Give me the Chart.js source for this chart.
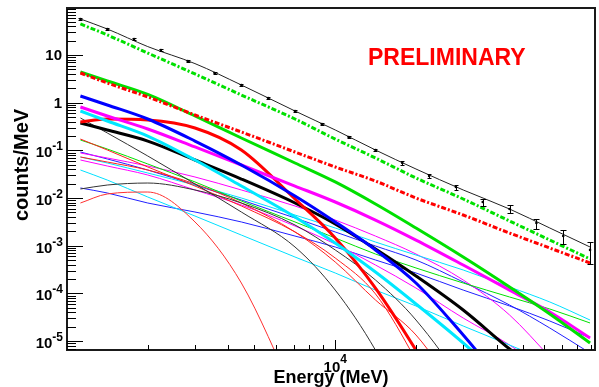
<!DOCTYPE html>
<html>
<head>
<meta charset="utf-8">
<script src="https://cdn.jsdelivr.net/npm/chart.js@4.4.1/dist/chart.umd.min.js"></script>
<style>
  html, body { margin: 0; padding: 0; background: #fff; }
  canvas { display: block; }
</style>
</head>
<body>
<canvas id="spectrum" width="599" height="387"></canvas>
<script>
const energy = [1122, 1413, 2000, 3000, 4467, 7079, 10000, 14125, 20000, 30000, 44668, 63096, 89125];

// binned counts with errors
const binEnergy = [1122, 1413, 1778, 2239, 2818, 3548, 4467, 5623, 7079, 8913, 11220, 14125, 17783, 22387, 28184, 35481, 44668, 56234, 70795, 89125];
const counts = [56.9, 35.1, 21.6, 12.7, 7.48, 4.19, 2.35, 1.25, 0.670, 0.357, 0.191, 0.102, 0.0544, 0.0290, 0.0171, 0.00828, 0.0059, 0.0030, 0.0016, 0.00082];
const countsErr = [1.7, 1.1, 0.7, 0.4, 0.25, 0.15, 0.09, 0.05, 0.03, 0.018, 0.011, 0.007, 0.0045, 0.0028, 0.002, 0.0013, 0.0011, 0.0007, 0.0005, 0.0004];

// total model
const totalModel = [56.9, 35.1, 15.0, 6.6, 2.35, 0.670, 0.268, 0.102, 0.0407, 0.0148, 0.0059, 0.00236, 0.000944];

// bright components (thick)
const greenDashDot = [44.7, 26.3, 11.0, 4.00, 1.45, 0.455, 0.173, 0.0693, 0.0264, 0.00957, 0.00331, 0.00132, 0.000529];
const redDashDot = [4.19, 2.59, 1.32, 0.552, 0.243, 0.0925, 0.0449, 0.0228, 0.01005, 0.00442, 0.00185, 0.000899, 0.000436];
const greenThick = [4.40, 2.85, 1.49, 0.526, 0.182, 0.0544, 0.0218, 0.00752, 0.00236, 0.000582, 0.000137, 3.72e-5, 9.17e-6];
const blueThick = [1.38, 0.895, 0.455, 0.157, 0.0494, 0.01107, 0.00316, 0.000817, 0.000166, 1.35e-5, 9.5e-7, 1.4e-7, 2e-8];
const magentaThick = [0.813, 0.526, 0.281, 0.118, 0.0494, 0.0179, 0.00828, 0.00347, 0.00132, 0.000396, 0.000118, 4.09e-5, 1.17e-5];
const cyanThick = [0.670, 0.413, 0.200, 0.0629, 0.0179, 0.00402, 0.001145, 0.000282, 6.03e-5, 9.17e-6, 1.21e-6, 2.2e-7, 4e-8];
const redThick = [0.394, 0.455, 0.434, 0.295, 0.102, 0.00957, 0.00146, 0.000130, 6.5e-6, 1.4e-7, 1.8e-9, null, null];
const blackThick = [0.375, 0.268, 0.157, 0.0629, 0.0251, 0.00789, 0.00286, 0.000857, 0.000233, 4.51e-5, 6.86e-6, 1.54e-6, 2.8e-7];

// faint components (thin)
const blackThinA = [0.478, 0.232, 0.0763, 0.0198, 0.00511, 0.000944, 0.000118, 6.5e-6, 1.4e-7, null, null, null, null];
const blackThinB = [0.0155, 0.0188, 0.0207, 0.0148, 0.00789, 0.00273, 0.000817, 0.000192, 2.78e-5, 1.21e-6, 2e-8, null, null];
const redThinA = [0.173, 0.102, 0.0449, 0.0179, 0.00683, 0.00195, 0.000555, 9.8e-5, 4.0e-6, 5e-8, null, null, null];
const redThinB = [0.0727, 0.0571, 0.0388, 0.0198, 0.00789, 0.00195, 0.000457, 7.31e-5, 1.35e-5, 5.8e-7, null, null, null];
const redThinC = [0.00789, 0.0122, 0.0134, 0.00316, 0.000166, 7.4e-7, null, null, null, null, null, null, null];
const greenThin = [0.165, 0.107, 0.0519, 0.0218, 0.00869, 0.00316, 0.00146, 0.000673, 0.000343, 0.000166, 8.45e-5, 4.73e-5, 2.41e-5];
const cyanThinA = [0.0727, 0.0544, 0.0336, 0.0188, 0.01005, 0.00442, 0.00236, 0.00120, 0.000641, 0.000311, 0.000137, 6.64e-5, 2.78e-5];
const cyanThinB = [0.0388, 0.0239, 0.01055, 0.00421, 0.00168, 0.000582, 0.000269, 0.000118, 5.47e-5, 2.08e-5, 8.32e-6, 3.66e-6, 1.54e-6];
const magentaThinA = [0.0882, 0.0693, 0.0471, 0.0277, 0.0148, 0.00683, 0.00347, 0.00160, 0.000673, 0.000192, 3.54e-5, 4.67e-6, 5.8e-7];
const magentaThinB = [0.0629, 0.0471, 0.0305, 0.0148, 0.00716, 0.00260, 0.00109, 0.000396, 0.000130, 3.06e-5, 8.32e-6, 1.95e-6, 3.6e-7];
const blueThinA = [0.0925, 0.0661, 0.0388, 0.0188, 0.00912, 0.00383, 0.00195, 0.000991, 0.000504, 0.000174, 5.74e-5, 1.89e-5, 5.66e-6];
const blueThinB = [0.0163, 0.0128, 0.00789, 0.00511, 0.00316, 0.00160, 0.000944, 0.000504, 0.000269, 0.000118, 5.47e-5, 2.65e-5, 1.17e-5];

// axis labels
const yTickExp = [1, 0, -1, -2, -3, -4, -5];
const xTickExp = [4];
const xTitle = 'Energy (MeV)';
const yTitle = 'counts/MeV';
const stamp = 'PRELIMINARY';

const FONT = '"Liberation Sans", Arial, sans-serif';
const DASHDOT = [5, 2, 2, 2];

function toPoints(vals) {
  return energy.map((e, i) => ({ x: e, y: vals[i] })).filter(p => p.y != null);
}

function curve(vals, color, width, dash, order) {
  return {
    type: 'line',
    data: toPoints(vals),
    borderColor: color,
    borderWidth: width,
    borderDash: dash || [],
    pointRadius: 0,
    fill: false,
    cubicInterpolationMode: 'monotone',
    clip: 0,
    order: order
  };
}

const datasets = [
  // data points
  {
    type: 'line',
    data: binEnergy.map((e, i) => ({ x: e, y: counts[i] })),
    showLine: false,
    pointRadius: 1.3,
    pointBackgroundColor: '#000',
    pointBorderWidth: 0,
    clip: 0,
    order: 0
  },
  curve(totalModel, '#222', 1, null, 1),
  curve(greenDashDot, '#00e000', 3, DASHDOT, 2),
  curve(redDashDot, '#ff0000', 3, DASHDOT, 2),
  curve(greenThick, '#00e000', 3, null, 3),
  curve(blueThick, '#0000ff', 3, null, 3),
  curve(magentaThick, '#ff00ff', 3, null, 3),
  curve(cyanThick, '#00e8ff', 3, null, 3),
  curve(redThick, '#ff0000', 3, null, 3),
  curve(blackThick, '#000', 3, null, 3),
  curve(blackThinA, '#333', 1, null, 4),
  curve(blackThinB, '#333', 1, null, 4),
  curve(redThinA, '#ff2020', 1, null, 4),
  curve(redThinB, '#ff2020', 1, null, 4),
  curve(redThinC, '#ff3030', 1, null, 4),
  curve(greenThin, '#00e000', 1, null, 4),
  curve(cyanThinA, '#00e0ff', 1, null, 4),
  curve(cyanThinB, '#00e0ff', 1, null, 4),
  curve(magentaThinA, '#ff00ff', 1, null, 4),
  curve(magentaThinB, '#ff00ff', 1, null, 4),
  curve(blueThinA, '#2020ff', 1, null, 4),
  curve(blueThinB, '#2020ff', 1, null, 4)
];

// ROOT-like frame, inward ticks, labels and error bars
const decorations = {
  id: 'decorations',
  afterDatasetsDraw(chart) {
    const { ctx, scales: { x, y } } = chart;
    ctx.save();
    ctx.strokeStyle = '#000';
    ctx.lineWidth = 1;
    ctx.beginPath();
    binEnergy.forEach((e, i) => {
      const px = Math.round(x.getPixelForValue(e)) + 0.5;
      const lo = Math.round(y.getPixelForValue(counts[i] - countsErr[i])) + 0.5;
      const hi = Math.round(y.getPixelForValue(counts[i] + countsErr[i])) + 0.5;
      const cap = lo - hi > 6 ? 3 : 2;
      ctx.moveTo(px, lo); ctx.lineTo(px, hi);
      ctx.moveTo(px - cap, lo); ctx.lineTo(px + cap, lo);
      ctx.moveTo(px - cap, hi); ctx.lineTo(px + cap, hi);
    });
    ctx.stroke();
    ctx.restore();
  },
  afterDraw(chart) {
    const { ctx, chartArea: a, scales: { x, y } } = chart;
    ctx.save();

    ctx.strokeStyle = '#1a1a1a';
    ctx.lineWidth = 2;
    ctx.strokeRect(a.left, a.top, a.right - a.left, a.bottom - a.top);

    ctx.lineWidth = 1;
    ctx.strokeStyle = '#000';
    ctx.beginPath();
    for (let d = -6; d <= 5; d++) {
      for (let m = 1; m <= 9; m++) {
        const v = m * Math.pow(10, d);
        if (v > y.min && v < y.max) {
          const py = Math.round(y.getPixelForValue(v)) + 0.5;
          ctx.moveTo(a.left, py);
          ctx.lineTo(a.left + (m === 1 ? 16 : 9), py);
        }
        if (v > x.min && v < x.max) {
          const px = Math.round(x.getPixelForValue(v)) + 0.5;
          ctx.moveTo(px, a.bottom);
          ctx.lineTo(px, a.bottom - (m === 1 ? 10 : 5));
        }
      }
    }
    ctx.stroke();

    const base = 'bold 15px ' + FONT;
    const sup = 'bold 12px ' + FONT;
    ctx.fillStyle = '#000';
    ctx.textBaseline = 'alphabetic';

    yTickExp.forEach(d => {
      const py = y.getPixelForValue(Math.pow(10, d));
      ctx.textAlign = 'right';
      if (d === 0 || d === 1) {
        ctx.font = base;
        ctx.fillText(d === 0 ? '1' : '10', a.left - 5, py + 5);
      } else {
        ctx.font = sup;
        const ew = ctx.measureText(String(d)).width;
        ctx.fillText(String(d), a.left - 4, py);
        ctx.font = base;
        ctx.fillText('10', a.left - 4 - ew, py + 7);
      }
    });

    xTickExp.forEach(d => {
      const px = x.getPixelForValue(Math.pow(10, d));
      ctx.font = base;
      const bw = ctx.measureText('10').width;
      ctx.font = sup;
      const ew = ctx.measureText(String(d)).width;
      const left = px - (bw + ew) / 2;
      ctx.textAlign = 'left';
      ctx.font = base;
      ctx.fillText('10', left, a.bottom + 22);
      ctx.font = sup;
      ctx.fillText(String(d), left + bw, a.bottom + 13);
    });

    ctx.font = 'bold 18px ' + FONT;
    ctx.textAlign = 'center';
    ctx.fillText(xTitle, (a.left + a.right) / 2, a.bottom + 33);

    ctx.save();
    ctx.translate(28, 165);
    ctx.rotate(-Math.PI / 2);
    ctx.font = 'bold 20px ' + FONT;
    ctx.fillText(yTitle, 0, 0);
    ctx.restore();

    ctx.fillStyle = '#ff0000';
    ctx.font = 'bold 23px ' + FONT;
    ctx.textAlign = 'left';
    ctx.fillText(stamp, 368, 65);

    ctx.restore();
  }
};

new Chart(document.getElementById('spectrum'), {
  type: 'line',
  data: { datasets: datasets },
  options: {
    responsive: false,
    animation: false,
    events: [],
    layout: { padding: { top: 8, right: 2, left: 0, bottom: 0 } },
    plugins: { legend: { display: false }, tooltip: { enabled: false } },
    scales: {
      x: {
        type: 'logarithmic',
        min: 1000,
        max: 93000,
        bounds: 'data',
        grid: { display: false },
        border: { display: false },
        ticks: { display: false },
        afterFit: s => { s.height = 37; }
      },
      y: {
        type: 'logarithmic',
        min: 6.54e-6,
        max: 96.6,
        bounds: 'data',
        grid: { display: false },
        border: { display: false },
        ticks: { display: false },
        afterFit: s => { s.width = 67; }
      }
    }
  },
  plugins: [decorations]
});
</script>
</body>
</html>
